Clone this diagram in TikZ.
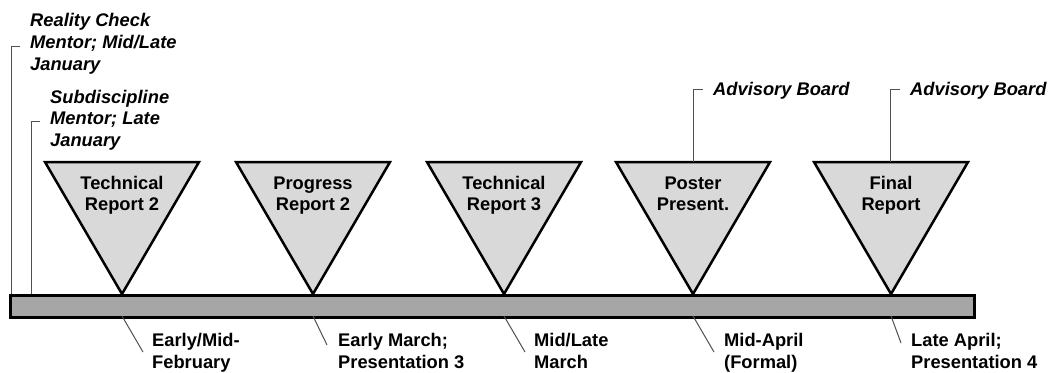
\documentclass[tikz,border=0pt]{standalone}
\usepackage{fontspec}
\setmainfont{Liberation Sans}
\definecolor{trifill}{HTML}{D9D9D9}
\definecolor{barfill}{HTML}{A6A6A6}
\definecolor{callgray}{HTML}{505050}
\begin{document}
\begin{tikzpicture}[x=1pt,y=-1pt,
  tri/.style={draw=black,fill=trifill,line width=2.5pt,line join=miter},
  barbox/.style={draw=black,fill=barfill,line width=2.5pt,inner sep=0pt,minimum width=964pt,minimum height=22pt,anchor=north west},
  callout/.style={draw=callgray,line width=1pt},
  trilab/.style={font=\fontsize{18.3}{21.5}\selectfont\bfseries,align=center,inner sep=0pt,anchor=base},
  datelab/.style={font=\fontsize{18.3}{21.5}\selectfont\bfseries,align=left,inner sep=0pt,anchor=base west},
  notelab/.style={font=\fontsize{18.3}{21.8}\selectfont\bfseries\itshape,align=left,inner sep=0pt,anchor=base west}]
\useasboundingbox (0,0) rectangle (1048,372);

% triangles
\draw[tri] (45,162) -- (199,162) -- (122,294) -- cycle;
\draw[tri] (236,162) -- (390,162) -- (313,294) -- cycle;
\draw[tri] (427,162) -- (581,162) -- (504,294) -- cycle;
\draw[tri] (616,162) -- (770,162) -- (693,294) -- cycle;
\draw[tri] (814,162) -- (968,162) -- (891,294) -- cycle;

% labels: anchor is the baseline of the last line
\node[trilab] (l1) at (122,210.5) {Technical\\Report 2};
\node[trilab] (l2) at (313,210.5) {Progress\\Report 2};
\node[trilab] (l3) at (504,210.5) {Technical\\Report 3};
\node[trilab] (l4) at (693,210.5) {Poster\\Present.};
\node[trilab] (l5) at (891,210.5) {Final\\Report};

% bar
\node[barbox] (bar) at (9,294) {};

% named points
\coordinate (a1) at (122,316); \coordinate (a2) at (313,316);
\coordinate (a3) at (504,316); \coordinate (a4) at (693,316);
\coordinate (a5) at (891,316);
\coordinate (e1) at (143,352); \coordinate (e2) at (327,345);
\coordinate (e3) at (525,352); \coordinate (e4) at (714,352);
\coordinate (e5) at (901,343);
\coordinate (t4) at (693,162); \coordinate (t5) at (890,162);
\coordinate (h4) at (703,89); \coordinate (h5) at (900,89);
\coordinate (b1) at (11,294); \coordinate (b2) at (31,294);
\coordinate (h1) at (20,46); \coordinate (h2) at (40,121);

% date labels
\node[datelab] (d1) at (152,368) {Early/Mid-\\February};
\node[datelab] (d2) at (338,368) {Early March;\\Presentation 3};
\node[datelab] (d3) at (534,368) {Mid/Late\\March};
\node[datelab] (d4) at (724,368) {Mid-April\\(Formal)};
\node[datelab] (d5) at (911,368) {Late April;\\Presentation 4};

\draw[callout] (a1) -- (e1);
\draw[callout] (a2) -- (e2);
\draw[callout] (a3) -- (e3);
\draw[callout] (a4) -- (e4);
\draw[callout] (a5) -- (e5);

% top notes
\node[notelab] (n1) at (30,70.5) {Reality Check\\Mentor; Mid/Late\\January};
\node[notelab] (n2) at (50,146.7) {Subdiscipline\\Mentor; Late\\January};
\node[notelab] (n4) at (713,95) {Advisory Board};
\node[notelab] (n5) at (910,95) {Advisory Board};

\draw[callout] (h1) -| (b1);
\draw[callout] (h2) -| (b2);
\draw[callout] (t4) |- (h4);
\draw[callout] (t5) |- (h5);
\end{tikzpicture}
\end{document}
